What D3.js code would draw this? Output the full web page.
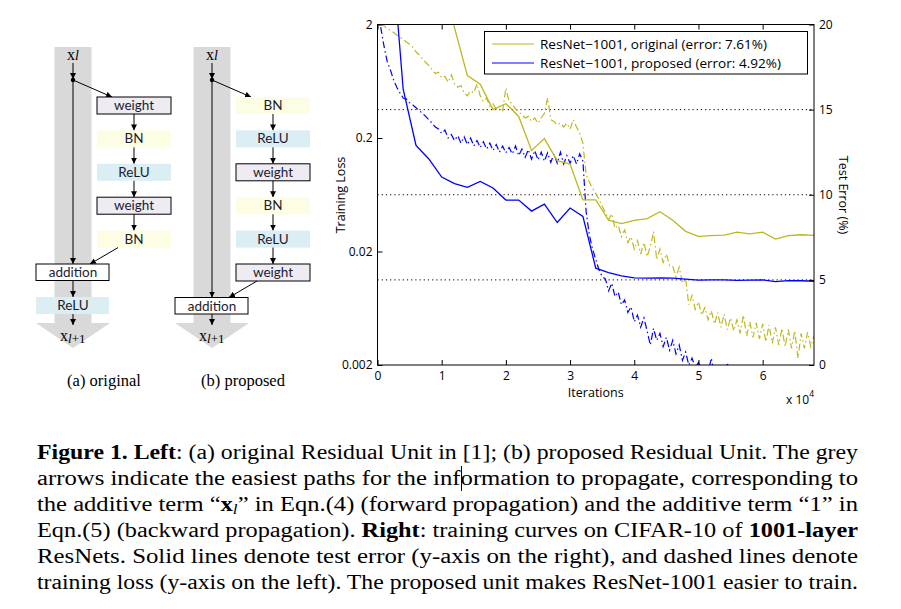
<!DOCTYPE html>
<html><head><meta charset="utf-8">
<script src="https://cdn.jsdelivr.net/npm/d3@7"></script>
<style>body{margin:0;background:#fff}svg{display:block}</style>
</head><body>
<svg id="fig" width="901" height="609"></svg>
<script>
// ---------------- DATA ----------------
const iterTicks = [0, 1, 2, 3, 4, 5, 6];
const lossTicks = [2, 0.2, 0.02, 0.002];
const lossTickLabels = ["2", "0.2", "0.02", "0.002"];
const errTicks = [0, 5, 10, 15, 20];
const errGrid = [5, 10, 15];
const seriesNames = ["ResNet\u22121001, original (error: 7.61%)", "ResNet\u22121001, proposed (error: 4.92%)"];

// test error (%), x in units of 1e4 iterations
const errIter = [0.2,0.4,0.6,0.8,1.0,1.2,1.4,1.6,1.8,2.0,2.2,2.4,2.6,2.8,3.0,3.2,3.4,3.6,3.8,4.0,4.2,4.4,4.6,4.8,5.0,5.2,5.4,5.6,5.8,6.0,6.2,6.4,6.6,6.8];
const errOriginal = [40,34,29,26,23,19.8,17.0,16.5,15.0,15.35,14.6,12.6,13.3,12.0,11.8,9.7,9.7,8.5,8.3,8.5,8.6,9.0,8.5,7.85,7.55,7.6,7.63,7.8,7.7,7.8,7.4,7.6,7.65,7.61];
const errProposed = [25.5,16.2,12.9,12.1,11.04,10.65,10.43,10.78,10.4,9.69,9.69,9.04,9.45,8.37,9.22,8.73,5.69,5.43,5.24,5.12,5.1,5.12,5.1,5.05,4.98,5.0,5.0,4.97,4.98,5.0,4.9,4.95,4.95,4.92];

// training loss, x = 0.05, 0.10, ... 6.80 (x1e4)
const lossIter = d3.range(136).map(i => +(0.05 + i * 0.05).toFixed(2));
const lossOriginal = [2.05,
 1.95,1.85,1.78,1.70,1.62,1.55,1.48,1.40,1.34,1.26,
 1.15,1.08,1.00,0.93,0.87,0.80,0.74,0.76,0.68,0.70,
 0.62,0.72,0.60,0.56,0.58,0.50,0.47,0.52,0.50,0.60,
 0.47,0.42,0.45,0.38,0.40,0.36,0.38,0.35,0.55,0.42,
 0.40,0.36,0.34,0.32,0.30,0.31,0.28,0.30,0.27,0.30,
 0.33,0.45,0.29,0.28,0.26,0.27,0.25,0.27,0.24,0.29,
 0.25,0.22,0.18,0.095,0.082,0.072,0.065,0.058,0.050,0.044,
 0.038,0.043,0.032,0.034,0.027,0.031,0.024,0.027,0.021,0.025,
 0.019,0.024,0.018,0.022,0.030,0.017,0.021,0.016,0.019,0.015,
 0.0148,0.012,0.0145,0.0105,0.0115,0.0068,0.0082,0.0062,0.0072,0.0055,
 0.0064,0.0050,0.0060,0.0046,0.0058,0.0043,0.0056,0.0041,0.0052,0.0040,
 0.0050,0.0038,0.0055,0.0036,0.0048,0.0035,0.0047,0.0034,0.0046,0.0032,
 0.0045,0.0031,0.0043,0.0030,0.0042,0.0029,0.0041,0.0028,0.0040,0.0023,
 0.0038,0.0028,0.0039,0.0029,0.0036];
const lossProposed = [
 1.90,1.30,0.95,0.80,0.65,0.56,0.50,0.45,0.44,0.41,
 0.39,0.37,0.35,0.33,0.31,0.29,0.27,0.25,0.24,0.22,
 0.235,0.20,0.215,0.19,0.21,0.18,0.205,0.175,0.20,0.17,
 0.19,0.165,0.185,0.16,0.18,0.155,0.175,0.15,0.17,0.148,
 0.165,0.145,0.17,0.14,0.16,0.135,0.158,0.13,0.155,0.128,
 0.15,0.125,0.148,0.122,0.145,0.12,0.15,0.118,0.14,0.12,
 0.14,0.118,0.145,0.125,0.045,0.028,0.021,0.017,0.0138,0.012,
 0.0115,0.009,0.0105,0.008,0.0088,0.0068,0.0075,0.0058,0.0065,0.0048,
 0.0055,0.0043,0.0052,0.0040,0.0030,0.0042,0.0033,0.0038,0.0029,0.0035,
 0.0027,0.0033,0.0025,0.0030,0.0022,0.0026,0.0020,0.0023,0.0019,0.0021,
 0.0018,0.0019,0.0017,0.0023,0.0016,0.0017,0.0015,0.0016,0.0021,0.0015,
 0.0014,0.0015,0.0013,0.0020,0.0014,0.0013,0.0014,0.0012,0.0013,0.0012,
 0.0012,0.0013,0.0011,0.0012,0.0011,0.0012,0.0010,0.0011,0.0010,0.0011,
 0.0010,0.0011,0.0010,0.0010,0.0011,0.0010];

// diagram blocks
const unitA = ["weight", "BN", "ReLU", "weight", "BN"];
const unitB = ["BN", "ReLU", "weight", "BN", "ReLU", "weight"];

// caption
const captionLines = [
 [["Figure 1. Left","b"],[": (a) original Residual Unit in [1]; (b) proposed Residual Unit. The grey",""]],
 [["arrows indicate the easiest paths for the information to propagate, corresponding to",""]],
 [["the additive term \u201c",""],["x","b"],["l","sub"],["\u201d in Eqn.(4) (forward propagation) and the additive term \u201c1\u201d in",""]],
 [["Eqn.(5) (backward propagation). ",""],["Right","b"],[": training curves on CIFAR-10 of ",""],["1001-layer","b"]],
 [["ResNets. Solid lines denote test error (y-axis on the right), and dashed lines denote",""]],
 [["training loss (y-axis on the left). The proposed unit makes ResNet-1001 easier to train.",""]]
];

// ---------------- DRAW ----------------
const svg = d3.select("#fig");
const OLIVE = "#bdb820", BLUE = "#0000ff";
const sans = "'Open Sans', sans-serif";
const serif = "'Liberation Serif', 'DejaVu Serif', serif";

const defs = svg.append("defs");
defs.append("marker").attr("id", "ah").attr("viewBox", "0 0 10 10")
  .attr("refX", 10).attr("refY", 5).attr("markerWidth", 6).attr("markerHeight", 6)
  .attr("markerUnits", "userSpaceOnUse").attr("orient", "auto")
  .append("path").attr("d", "M0,0 L10,5 L0,10 z").attr("fill", "#000");

// ---- diagrams ----
const fills = {weight: "#eeebf3", BN: "#fdfde3", ReLU: "#daeef3"};
function drawUnit(g, cx, bx0, bx1, blocks, addY, reluAfter, title, titleX) {
  g.append("rect").attr("x", cx - 18.5).attr("y", 47).attr("width", 37).attr("height", 276).attr("fill", "#d9d9d9");
  g.append("path").attr("d", `M${cx-37},323 L${cx+37},323 L${cx},348 Z`).attr("fill", "#d9d9d9");
  const t = g.append("text").attr("x", cx).attr("y", 60).attr("text-anchor", "middle")
    .attr("font-family", serif).attr("font-size", 16);
  t.append("tspan").text("x");
  t.append("tspan").attr("font-style", "italic").attr("font-size", 14).text("l");
  const line = (x1, y1, x2, y2, arrow = true) => g.append("line").attr("x1", x1).attr("y1", y1)
      .attr("x2", x2).attr("y2", y2).attr("stroke", "#000").attr("stroke-width", 1)
      .attr("marker-end", arrow ? "url(#ah)" : null);
  line(cx, 63, cx, 79);
  g.append("circle").attr("cx", cx).attr("cy", 80).attr("r", 2.2).attr("fill", "#000");
  const bcx = (bx0 + bx1) / 2;
  line(cx, 80, bx0 + 15, 97);
  blocks.forEach((b, i) => {
    const y0 = 97 + i * 33.4;
    g.append("rect").attr("x", bx0).attr("y", y0).attr("width", bx1 - bx0).attr("height", 17)
      .attr("fill", fills[b]).attr("stroke", b === "weight" ? "#000" : "none").attr("stroke-width", 1);
    g.append("text").attr("x", bcx).attr("y", y0 + 13).attr("text-anchor", "middle")
      .attr("font-family", "Lato, sans-serif").attr("font-size", 13.5).attr("fill", "#1c1c30").text(b);
    if (i < blocks.length - 1) line(bcx, y0 + 17, bcx, y0 + 33.4);
  });
  const lastBottom = 97 + (blocks.length - 1) * 33.4 + 17;
  const ax0 = cx - 37, ax1 = cx + 36;
  line(bcx - 16, lastBottom, cx + 17, addY);
  line(cx, 80, cx, addY);
  g.append("rect").attr("x", ax0).attr("y", addY).attr("width", ax1 - ax0).attr("height", 16.5)
    .attr("fill", "#fff").attr("stroke", "#000");
  g.append("text").attr("x", cx).attr("y", addY + 13).attr("text-anchor", "middle")
    .attr("font-family", "Lato, sans-serif").attr("font-size", 13.5).attr("fill", "#1c1c30").text("addition");
  let y = addY + 16.5;
  if (reluAfter) {
    line(cx, y, cx, y + 16.5);
    g.append("rect").attr("x", ax0).attr("y", y + 16.5).attr("width", ax1 - ax0).attr("height", 17).attr("fill", fills.ReLU);
    g.append("text").attr("x", cx).attr("y", y + 16.5 + 13).attr("text-anchor", "middle")
      .attr("font-family", "Lato, sans-serif").attr("font-size", 13.5).attr("fill", "#1c1c30").text("ReLU");
    y = y + 33.5;
  }
  line(cx, y, cx, 325);
  const t2 = g.append("text").attr("x", cx - 13).attr("y", 341).attr("font-family", serif).attr("font-size", 16);
  t2.append("tspan").text("x");
  t2.append("tspan").attr("font-style", "italic").attr("font-size", 13).attr("dy", 2).text("l");
  t2.append("tspan").attr("font-size", 13).text("+1");
  g.append("text").attr("x", titleX).attr("y", 386).attr("text-anchor", "middle")
    .attr("font-family", serif).attr("font-size", 16.5).text(title);
}
drawUnit(svg.append("g"), 73, 97, 171, unitA, 264, true, "(a) original", 104);
drawUnit(svg.append("g"), 212, 236, 310, unitB, 297.5, false, "(b) proposed", 243);

// ---- chart ----
const L = 377.5, R = 814, T = 24.5, B = 365;
const x = d3.scaleLinear().domain([0, 6.8]).range([L, R]);
const yLoss = d3.scaleLog().domain([0.002, 2]).range([B, T]);
const yErr = d3.scaleLinear().domain([0, 20]).range([B, T]);
const chart = svg.append("g");
defs.append("clipPath").attr("id", "plotclip").append("rect")
  .attr("x", L).attr("y", T).attr("width", R - L).attr("height", B - T);

chart.append("g").selectAll("line").data(errGrid).join("line")
  .attr("x1", L).attr("x2", R).attr("y1", d => yErr(d)).attr("y2", d => yErr(d))
  .attr("stroke", "#000").attr("stroke-width", 1).attr("stroke-dasharray", "1.2,3");

const plot = chart.append("g").attr("clip-path", "url(#plotclip)");
const lossLine = d3.line().x((d, i) => x(lossIter[i])).y(d => yLoss(d));
const errLine = d3.line().x((d, i) => x(errIter[i])).y(d => yErr(d));
[[lossOriginal, OLIVE], [lossProposed, BLUE]].forEach(([arr, c]) => {
  plot.append("path").attr("d", lossLine(arr)).attr("fill", "none").attr("stroke", c)
    .attr("stroke-width", 1.2).attr("stroke-dasharray", "7,3,1.5,3");
});
[[errOriginal, OLIVE], [errProposed, BLUE]].forEach(([arr, c]) => {
  plot.append("path").attr("d", errLine(arr)).attr("fill", "none").attr("stroke", c).attr("stroke-width", 1.3);
});

const styleAxis = g => { g.select(".domain").remove(); g.selectAll("text").attr("font-family", sans).attr("font-size", 12).attr("fill", "#000"); g.selectAll(".tick line").attr("stroke", "#000"); };
chart.append("g").attr("transform", `translate(0,${B})`)
  .call(d3.axisBottom(x).tickValues(iterTicks).tickFormat(d3.format("d")).tickSize(-5).tickPadding(6)).call(styleAxis);
chart.append("g").attr("transform", `translate(0,${T})`)
  .call(d3.axisTop(x).tickValues(iterTicks).tickFormat("").tickSize(-5)).call(styleAxis);
chart.append("g").attr("transform", `translate(${L},0)`)
  .call(d3.axisLeft(yLoss).tickValues(lossTicks).tickFormat((d, i) => lossTickLabels[i]).tickSize(-5).tickPadding(5)).call(styleAxis);
chart.append("g").attr("transform", `translate(${R},0)`)
  .call(d3.axisRight(yErr).tickValues(errTicks).tickFormat(d3.format("d")).tickSize(-5).tickPadding(5)).call(styleAxis);
chart.append("rect").attr("x", L).attr("y", T).attr("width", R - L).attr("height", B - T)
  .attr("fill", "none").attr("stroke", "#000").attr("stroke-width", 1);

chart.append("text").attr("x", (L + R) / 2).attr("y", 397).attr("text-anchor", "middle")
  .attr("font-family", sans).attr("font-size", 12.5).text("Iterations");
const e = chart.append("text").attr("x", R).attr("y", 404).attr("text-anchor", "end")
  .attr("font-family", sans).attr("font-size", 12);
e.append("tspan").text("x 10");
e.append("tspan").attr("font-size", 8.5).attr("dy", -7).text("4");
chart.append("text").attr("transform", `translate(345,195) rotate(-90)`).attr("text-anchor", "middle")
  .attr("font-family", sans).attr("font-size", 12.5).text("Training Loss");
chart.append("text").attr("transform", `translate(839,195) rotate(90)`).attr("text-anchor", "middle")
  .attr("font-family", sans).attr("font-size", 12.5).text("Test Error (%)");

const lg = chart.append("g");
lg.append("rect").attr("x", 484.5).attr("y", 31.5).attr("width", 323).attr("height", 42.5)
  .attr("fill", "#fff").attr("stroke", "#000");
[[OLIVE, 44, 227], [BLUE, 63, 241]].forEach(([c, yy, w], i) => {
  lg.append("line").attr("x1", 492).attr("x2", 534).attr("y1", yy).attr("y2", yy).attr("stroke", c).attr("stroke-width", 1.2);
  lg.append("text").attr("x", 540).attr("y", yy + 4.5).attr("font-family", sans).attr("font-size", 13)
    .attr("textLength", w).attr("lengthAdjust", "spacingAndGlyphs").text(seriesNames[i]);
});

// ---- caption ----
const cap = svg.append("g").attr("font-family", serif).attr("font-size", 20).attr("fill", "#000");
captionLines.forEach((segs, i) => {
  const t = cap.append("text").attr("x", 37).attr("y", 459 + i * 26)
    .attr("textLength", 821).attr("lengthAdjust", "spacingAndGlyphs");
  segs.forEach(([s, st], j) => {
    const ts = t.append("tspan").text(s);
    if (st === "b") ts.attr("font-weight", "bold");
    if (st === "sub") ts.attr("font-style", "italic").attr("font-size", 14).attr("dy", 3);
    if (j > 0 && segs[j - 1][1] === "sub") ts.attr("dy", -3);
  });
});
cap.append("line").attr("x1", 461.5).attr("x2", 461.5).attr("y1", 466).attr("y2", 491).attr("stroke", "#000").attr("stroke-width", 1);
</script>
</body></html>
